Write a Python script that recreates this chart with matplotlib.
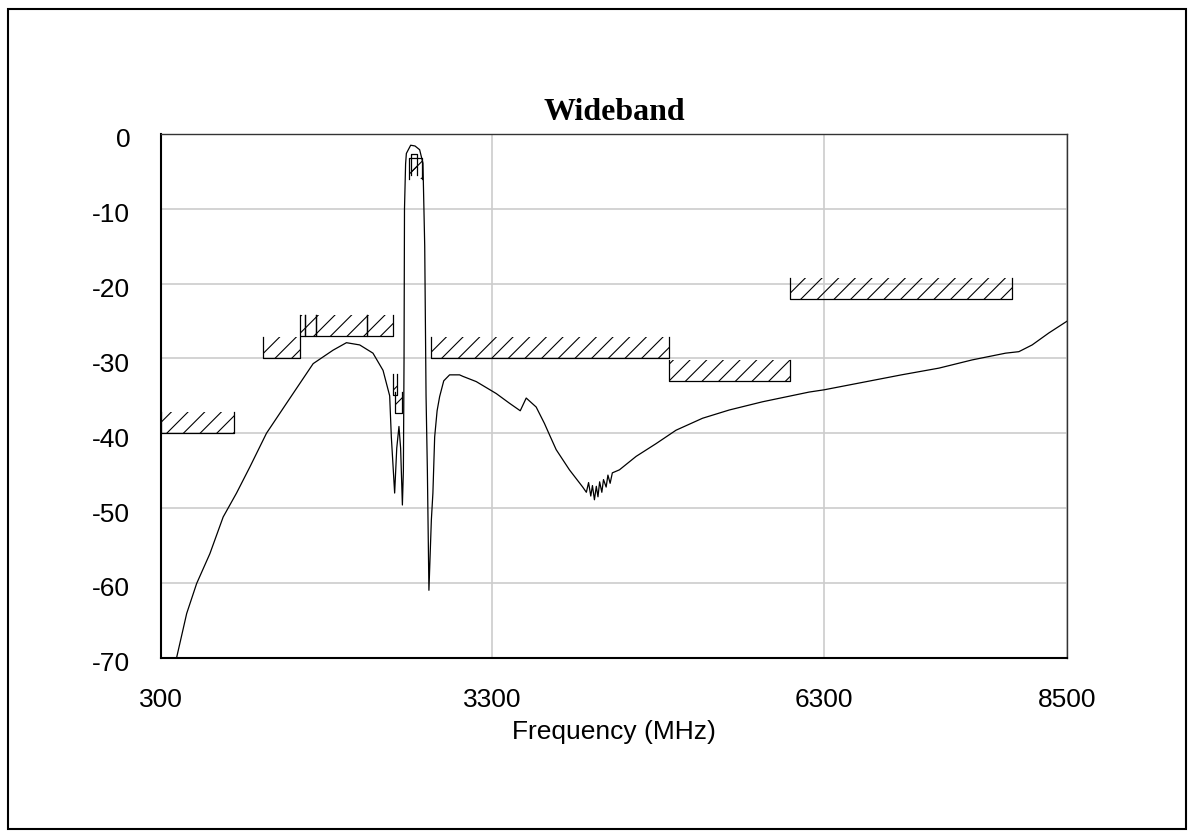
import numpy as np
import matplotlib
matplotlib.use("Agg")
from matplotlib import pyplot as plt
from matplotlib.patches import Rectangle
from matplotlib.transforms import ScaledTranslation

plt.rcParams['axes.unicode_minus'] = False
plt.rcParams['hatch.linewidth'] = 0.8

# measured response (MHz, dB)
freq = [444, 535, 625, 745, 865, 986, 1107, 1257, 1438, 1588, 1679, 1859, 1980, 2100,
        2220, 2311, 2371, 2386, 2416, 2435, 2455, 2470, 2486, 2495, 2501, 2505, 2515,
        2522, 2561, 2600, 2642, 2672, 2688, 2700, 2712, 2726, 2748, 2762, 2778, 2800,
        2823, 2860, 2913, 3003, 3033, 3154, 3335, 3455, 3552, 3606, 3696, 3771, 3816,
        3877, 3997, 4117, 4150, 4170, 4190, 4205, 4223, 4240, 4255, 4270, 4290, 4305,
        4329, 4345, 4365, 4385, 4449, 4600, 4780, 4961, 5201, 5442, 5743, 6165, 6300,
        7000, 7339, 7640, 7942, 8062, 8182, 8333, 8500]
gain = [-70.0, -64.1, -60.1, -56.1, -51.2, -48.0, -44.5, -40.0, -36.0, -32.7, -30.7, -28.9,
        -27.9, -28.2, -29.3, -31.6, -35.0, -40.5, -48.0, -42.0, -39.1, -42.0, -49.6, -45.0,
        -30.0, -10.0, -4.0, -2.6, -1.5, -1.6, -2.1, -3.9, -15.0, -35.0, -45.0, -61.0, -51.6,
        -48.0, -40.5, -37.0, -35.1, -33.0, -32.2, -32.2, -32.4, -33.1, -34.7, -36.0, -37.0,
        -35.3, -36.5, -38.7, -40.2, -42.2, -44.9, -47.2, -47.9, -46.6, -48.4, -47.0, -48.9,
        -47.1, -48.5, -46.5, -47.9, -46.2, -47.2, -45.6, -46.7, -45.3, -44.9, -43.1, -41.4,
        -39.6, -38.0, -36.9, -35.8, -34.5, -34.2, -32.2, -31.3, -30.2, -29.3, -29.1, -28.2,
        -26.6, -25.0]

# limit masks: start, stop, limit level, kind
mask_lo = [300, 1227, 1561, 1606, 1709, 2170, 2401, 2419, 2543, 2561, 2748, 4894, 5996]
mask_hi = [962, 1561, 1606, 1709, 2170, 2401, 2437, 2486, 2663, 2618, 4894, 5996, 7996]
mask_level = [-40.0, -30.0, -27.0, -27.0, -27.0, -27.0, -34.9, -37.3, -3.2, -2.7, -30.0, -33.0, -22.0]
mask_kind = ['stop'] * 8 + ['pass', 'pass'] + ['stop'] * 3

x_ticks = [300, 3300, 6300, 8500]
y_ticks = [0, -10, -20, -30, -40, -50, -60, -70]

fig = plt.figure(figsize=(11.94, 8.38), dpi=100)
ax = fig.add_axes([160.7 / 1194, 1 - 657.6 / 838, (1067.3 - 160.7) / 1194, (657.6 - 134) / 838])

h = 2.8
for lo, hi, lev, kind in zip(mask_lo, mask_hi, mask_level, mask_kind):
    top = lev + h if kind == 'stop' else lev - h
    ax.fill_between([lo, hi], lev, top, facecolor='none', edgecolor='black',
                    hatch='//', linewidth=0)
    ax.plot([lo, lo, hi, hi], [top, lev, lev, top], color='black', lw=0.9)

ax.plot(freq, gain, color='black', lw=0.9)

ax.set_xlim(300, 8500)
ax.set_ylim(-70, 0)
ax.set_xticks(x_ticks)
ax.set_xticklabels([str(v) for v in x_ticks])
ax.set_yticks(y_ticks)
ax.set_yticklabels([str(v) for v in y_ticks])
ax.tick_params(length=0, labelsize=19)
ax.tick_params(axis='x', pad=22)
ax.tick_params(axis='y', pad=22)
shift = ScaledTranslation(0, -4 / 100, fig.dpi_scale_trans)
for lab in ax.get_xticklabels() + ax.get_yticklabels():
    lab.set_fontfamily('Liberation Sans')
for lab in ax.get_yticklabels():
    lab.set_transform(lab.get_transform() + shift)
ax.grid(True, color='#cccccc', lw=1.2)
ax.set_axisbelow(True)
for s in ['left', 'bottom']:
    ax.spines[s].set_linewidth(1.5)
    ax.spines[s].set_color('black')
for s in ['top', 'right']:
    ax.spines[s].set_linewidth(1.0)
    ax.spines[s].set_color('#333333')

ax.set_title('Wideband', fontsize=23, fontweight='bold', family='Liberation Serif', pad=10)
ax.set_xlabel('Frequency (MHz)', fontsize=19, family='Liberation Sans')
ax.xaxis.set_label_coords(0.5, -0.143)
ax.xaxis.label.set_va('center')

fig.patches.append(Rectangle((8.3 / 1194, 9 / 838), (1186 - 8.3) / 1194, (829 - 9.3) / 838,
                             transform=fig.transFigure, fill=False, edgecolor='black', lw=1.5))

fig.savefig('out.png', dpi=100)
